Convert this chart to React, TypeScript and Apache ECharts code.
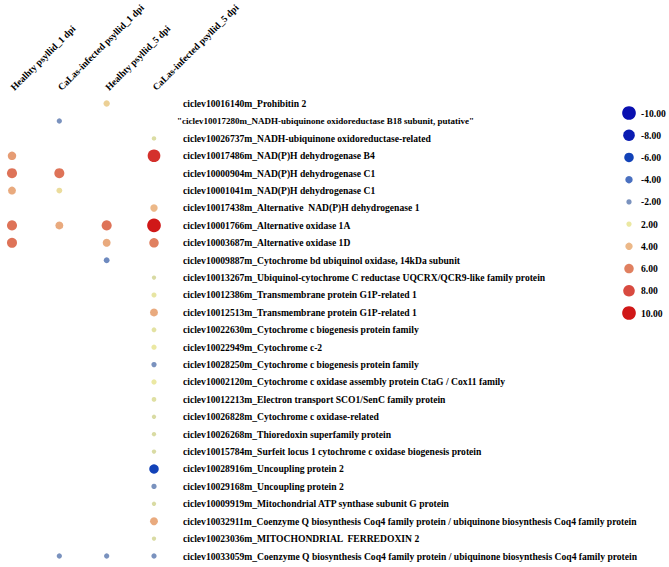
import React, { useEffect, useRef } from "react";
import * as echarts from "echarts";

const columns = [
  "Healhty psyllid_1 dpi",
  "CaLas-infected psyllid_1 dpi",
  "Healhty psyllid_5 dpi",
  "CaLas-infected psyllid_5 dpi",
];

const genes = [
  "ciclev10016140m_Prohibitin 2",
  "\"ciclev10017280m_NADH-ubiquinone oxidoreductase B18 subunit, putative\"",
  "ciclev10026737m_NADH-ubiquinone oxidoreductase-related",
  "ciclev10017486m_NAD(P)H dehydrogenase B4",
  "ciclev10000904m_NAD(P)H dehydrogenase C1",
  "ciclev10001041m_NAD(P)H dehydrogenase C1",
  "ciclev10017438m_Alternative  NAD(P)H dehydrogenase 1",
  "ciclev10001766m_Alternative oxidase 1A",
  "ciclev10003687m_Alternative oxidase 1D",
  "ciclev10009887m_Cytochrome bd ubiquinol oxidase, 14kDa subunit",
  "ciclev10013267m_Ubiquinol-cytochrome C reductase UQCRX/QCR9-like family protein",
  "ciclev10012386m_Transmembrane protein G1P-related 1",
  "ciclev10012513m_Transmembrane protein G1P-related 1",
  "ciclev10022630m_Cytochrome c biogenesis protein family",
  "ciclev10022949m_Cytochrome c-2",
  "ciclev10028250m_Cytochrome c biogenesis protein family",
  "ciclev10002120m_Cytochrome c oxidase assembly protein CtaG / Cox11 family",
  "ciclev10012213m_Electron transport SCO1/SenC family protein",
  "ciclev10026828m_Cytochrome c oxidase-related",
  "ciclev10026268m_Thioredoxin superfamily protein",
  "ciclev10015784m_Surfeit locus 1 cytochrome c oxidase biogenesis protein",
  "ciclev10028916m_Uncoupling protein 2",
  "ciclev10029168m_Uncoupling protein 2",
  "ciclev10009919m_Mitochondrial ATP synthase subunit G protein",
  "ciclev10032911m_Coenzyme Q biosynthesis Coq4 family protein / ubiquinone biosynthesis Coq4 family protein",
  "ciclev10023036m_MITOCHONDRIAL  FERREDOXIN 2",
  "ciclev10033059m_Coenzyme Q biosynthesis Coq4 family protein / ubiquinone biosynthesis Coq4 family protein",
];

const N = null;
// log2 fold change per column (row order as genes)
const healthy1 = [N, N, N, 5, 6.5, 4.5, N, 6.5, 6.5, N, N, N, N, N, N, N, N, N, N, N, N, N, N, N, N, N, N];
const calas1 = [N, -2, N, N, 6.5, 2.5, N, 4.5, N, N, N, N, N, N, N, N, N, N, N, N, N, N, N, N, N, N, -2];
const healthy5 = [3, N, N, N, N, N, N, 6.5, 4.5, -2.5, N, N, N, N, N, N, N, N, N, N, N, N, N, N, N, N, -2];
const calas5 = [N, N, 1.2, 9, N, N, 4, 10, 6, N, 1.0, 1.8, 4.5, 1.6, 2.0, -2, 2.0, 1.4, 1.1, 1.1, 1.1, -6, -2, 1.1, 4.5, 1.1, -2];

const legendValues = [-10, -8, -6, -4, -2, 2, 4, 6, 8, 10];

const FONT = "'Liberation Serif', 'Times New Roman', serif";

export default function App() {
  const ref = useRef<HTMLDivElement>(null);
  useEffect(() => {
    if (!ref.current) return;
    const chart = echarts.init(ref.current, null, { renderer: "svg" });
    const cols = [healthy1, calas1, healthy5, calas5];
    const data: any[] = [];
    cols.forEach((arr, c) => {
      arr.forEach((v, r) => {
        if (v !== null) data.push([c, r, v]);
      });
    });
    const legendData = legendValues.map((v, i) => [0, i, v]);
    const sizeFn = (val: any) => 3.2 + 1.05 * Math.abs(val[2]);
    const labelStyle = {
      fontFamily: FONT,
      fontWeight: "bold" as const,
      fontSize: 9.6,
      color: "#000",
    };
    chart.setOption({
      animation: false,
      backgroundColor: "#fff",
      grid: [
        { left: 12, top: 103, width: 142, height: 453 },
        { left: 619, top: 113, width: 20, height: 200 },
      ],
      xAxis: [
        {
          gridIndex: 0,
          type: "category",
          position: "top",
          data: columns,
          boundaryGap: false,
          axisLine: { show: false },
          axisTick: { show: false },
          splitLine: { show: false },
          axisLabel: {
            ...labelStyle,
            rotate: -45,
            align: "left",
            verticalAlign: "middle",
            margin: 15,
            interval: 0,
            hideOverlap: false,
          },
        },
        {
          gridIndex: 1,
          type: "category",
          data: [""],
          boundaryGap: true,
          axisLine: { show: false },
          axisTick: { show: false },
          axisLabel: { show: false },
          splitLine: { show: false },
        },
      ],
      yAxis: [
        {
          gridIndex: 0,
          type: "category",
          data: genes,
          inverse: true,
          position: "right",
          boundaryGap: false,
          axisLine: { show: false },
          axisTick: { show: false },
          splitLine: { show: false },
          axisLabel: {
            ...labelStyle,
            interval: 0,
            margin: 23,
            formatter: (v: string) => (v.startsWith('"') ? `{b|${v}}` : `{a|${v}}`),
            rich: {
              a: { ...labelStyle, padding: [0, 0, 0, 6] },
              b: { ...labelStyle, fontSize: 9 },
            },
          },
        },
        {
          gridIndex: 1,
          type: "category",
          data: legendValues.map((v) => v.toFixed(2)),
          inverse: true,
          position: "right",
          boundaryGap: false,
          axisLine: { show: false },
          axisTick: { show: false },
          splitLine: { show: false },
          axisLabel: { ...labelStyle, interval: 0, margin: 2 },
        },
      ],
      visualMap: {
        show: false,
        type: "continuous",
        min: -10,
        max: 10,
        dimension: 2,
        seriesIndex: [0, 1],
        inRange: {
          color: [
            "#0a10b0",
            "#0a1cb2",
            "#1242b8",
            "#4a70c0",
            "#7a92be",
            "#c4cca4",
            "#ebe8a2",
            "#ecb888",
            "#e08060",
            "#d84a40",
            "#d01818",
          ],
        },
      },
      series: [
        {
          type: "scatter",
          xAxisIndex: 0,
          yAxisIndex: 0,
          data,
          symbolSize: sizeFn,
          itemStyle: { opacity: 1 },
        },
        {
          type: "scatter",
          xAxisIndex: 1,
          yAxisIndex: 1,
          data: legendData,
          symbolSize: sizeFn,
          itemStyle: { opacity: 1 },
        },
      ],
    });
    return () => chart.dispose();
  }, []);
  return (
    <div
      ref={ref}
      style={{ position: "absolute", left: 0, top: 0, width: 669, height: 567 }}
    />
  );
}
